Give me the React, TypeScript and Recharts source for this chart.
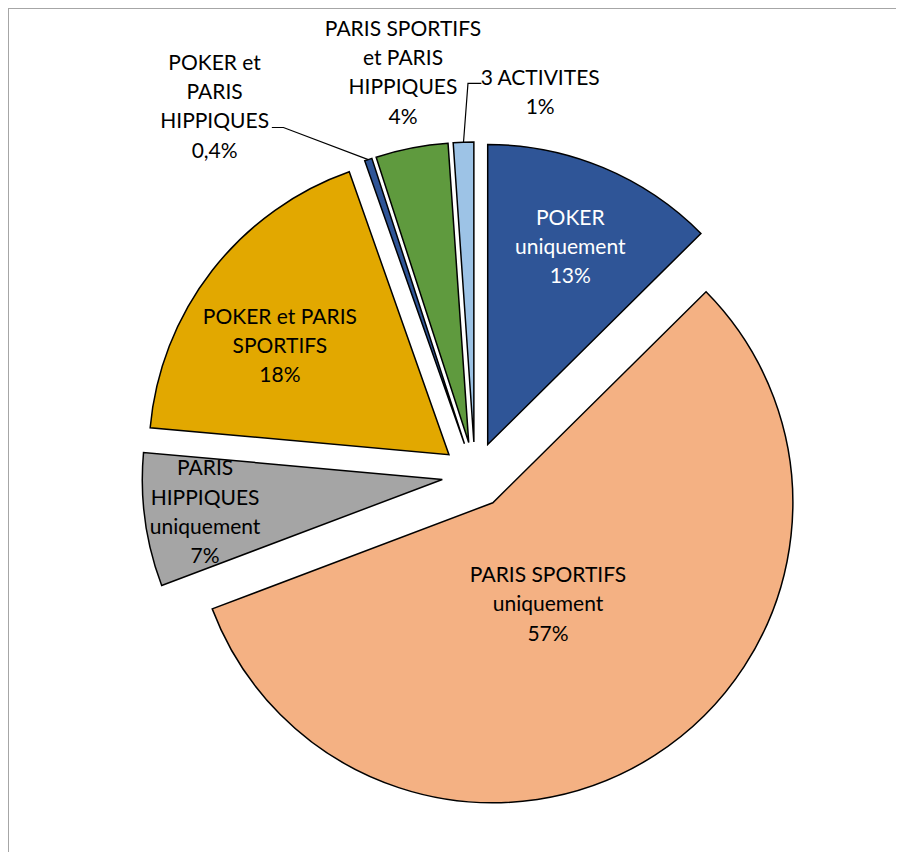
import { PieChart, Pie, Sector } from "recharts";

const categories = [
  "POKER uniquement",
  "PARIS SPORTIFS uniquement",
  "PARIS HIPPIQUES uniquement",
  "POKER et PARIS SPORTIFS",
  "POKER et PARIS HIPPIQUES",
  "PARIS SPORTIFS et PARIS HIPPIQUES",
  "3 ACTIVITES",
];

// share of players, in %
const shares = [12.6, 56.75, 7.2, 18.2, 0.4, 3.9, 1.1];

// label text split the way the original breaks it
const labelLines = [
  ["POKER", "uniquement"],
  ["PARIS SPORTIFS", "uniquement"],
  ["PARIS", "HIPPIQUES", "uniquement"],
  ["POKER et PARIS", "SPORTIFS"],
  ["POKER et", "PARIS", "HIPPIQUES"],
  ["PARIS SPORTIFS", "et PARIS", "HIPPIQUES"],
  ["3 ACTIVITES"],
];

const data = categories.map((name, i) => ({ name, value: shares[i] }));

const sliceColors = ["#2F5597", "#F4B183", "#A5A5A5", "#E2A800", "#2F5597", "#5F9A3E", "#9DC3E6"];
const textColors = ["#fff", "#000", "#000", "#000", "#000", "#000", "#000"];
// label spot: distance from the slice tip (share of radius), angle shift (deg, clockwise)
const labelPlace: [number, number][] = [
  [0.715, 0],
  [0.384, 4.1],
  [0.798, 0],
  [0.671, -5],
  [1.4, -17.8],
  [1.254, 0.9],
  [1.188, 12.7],
];
// leader lines: attach offset from label centre, then short horizontal run
const leaders: Record<number, { dx: number; dy: number; hx: number }> = {
  4: { dx: 57.2, dy: 21.4, hx: 11.6 },
  6: { dx: -58.8, dy: -8.5, hx: -13.4 },
};

const EXPLODE = 33;
const LINE = 29.3;
const RAD = Math.PI / 180;

const polar = (x: number, y: number, r: number, a: number) => ({
  x: x + Math.cos(-a * RAD) * r,
  y: y + Math.sin(-a * RAD) * r,
});

const pct = (v: number) => (v < 1 ? v.toFixed(1).replace(".", ",") : String(Math.round(v))) + "%";

function renderSlice(props: any) {
  const { cx, cy, outerRadius, startAngle, endAngle } = props;
  const i = typeof props.index === "number" ? props.index : categories.indexOf(props.name);
  const mid = (startAngle + endAngle) / 2;
  const tip = polar(cx, cy, EXPLODE, mid);
  const [frac, shift] = labelPlace[i];
  const at = polar(tip.x, tip.y, outerRadius * frac, mid - shift);
  const lines = [...labelLines[i], pct(shares[i])];
  const n = lines.length;
  const lead = leaders[i];
  let leaderPts = "";
  if (lead) {
    const ax = at.x + lead.dx;
    const ay = at.y + lead.dy;
    const end = polar(tip.x, tip.y, outerRadius, mid);
    leaderPts = `${ax},${ay} ${ax + lead.hx},${ay} ${end.x},${end.y}`;
  }
  return (
    <g>
      <Sector
        cx={tip.x}
        cy={tip.y}
        innerRadius={0}
        outerRadius={outerRadius}
        startAngle={startAngle}
        endAngle={endAngle}
        fill={sliceColors[i]}
        stroke="#000"
        strokeWidth={1.5}
      />
      {lead && <polyline points={leaderPts} fill="none" stroke="#000" strokeWidth={1.2} />}
      <text textAnchor="middle" fontFamily="Lato, sans-serif" fontSize={21} fill={textColors[i]}>
        {lines.map((t, k) => (
          <tspan key={k} x={at.x} y={at.y + (k - (n - 1) / 2) * LINE + 7.5}>
            {t}
          </tspan>
        ))}
      </text>
    </g>
  );
}

export default function App() {
  return (
    <div style={{ position: "relative", width: 896, height: 844 }}>
      <div
        style={{
          position: "absolute",
          inset: 0,
          borderTop: "1px solid #A6A6A6",
          borderLeft: "1px solid #A6A6A6",
        }}
      />
      <PieChart width={896} height={844} margin={{ top: 0, right: 0, bottom: 0, left: 0 }}>
        <Pie
          data={data}
          dataKey="value"
          nameKey="name"
          cx={467}
          cy={467}
          outerRadius={300}
          startAngle={90}
          endAngle={-270}
          fill="none"
          stroke="none"
          label={renderSlice}
          labelLine={false}
          isAnimationActive={false}
        />
      </PieChart>
    </div>
  );
}
